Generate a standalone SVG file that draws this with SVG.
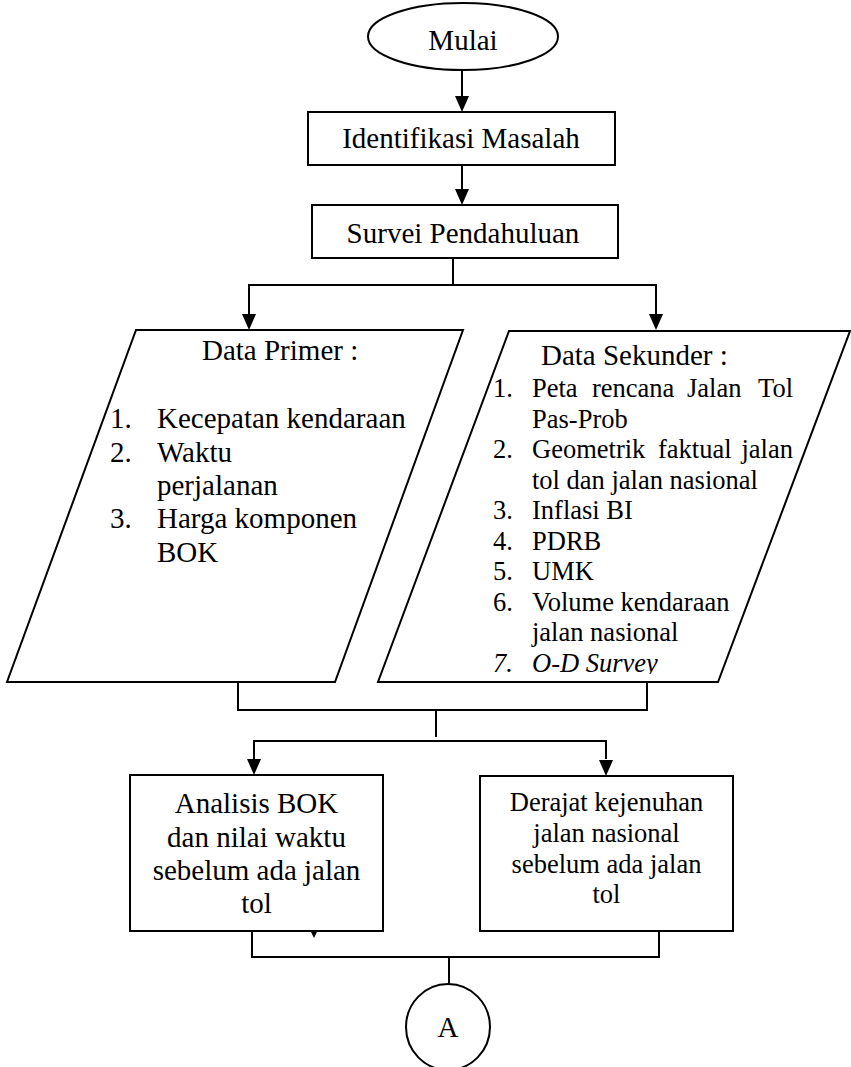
<svg xmlns="http://www.w3.org/2000/svg" width="851" height="1067" viewBox="0 0 851 1067">
<style>
.s{fill:#fff;stroke:#000;stroke-width:2}
.c{fill:none;stroke:#000;stroke-width:2}
.h{fill:#000;stroke:none}
.t{font-family:"Liberation Serif","Times New Roman",serif;fill:#000}
.f29{font-size:29px}
.f26{font-size:26.5px}
.m{text-anchor:middle}
.e{text-anchor:end}
</style>
<defs>
<clipPath id="clipOD"><rect x="480" y="640" width="300" height="34"/></clipPath>
</defs>
<rect width="851" height="1067" fill="#fff"/>

<g id="connectors">
<line class="c" x1="462" y1="70" x2="462" y2="96"/>
<path class="h" d="M455,96 L469,96 L462,112 Z"/>
<line class="c" x1="462" y1="165" x2="462" y2="189"/>
<path class="h" d="M455,189 L469,189 L462,205 Z"/>
<polyline class="c" points="453,258 453,285"/>
<polyline class="c" points="249,314 249,285 656,285 656,314"/>
<path class="h" d="M242,314 L256,314 L249,330 Z"/>
<path class="h" d="M649,314 L663,314 L656,330 Z"/>
<polyline class="c" points="238,682 238,710 647,710 647,682"/>
<line class="c" x1="436" y1="710" x2="436" y2="737"/>
<polyline class="c" points="254,759 254,741 606,741 606,759"/>
<path class="h" d="M247,759 L261,759 L254,775 Z"/>
<path class="h" d="M599,760 L613,760 L606,776 Z"/>
<polyline class="c" points="252,931 252,957 659,957 659,931"/>
<line class="c" x1="449" y1="957" x2="449" y2="985"/>
<path class="h" d="M311,932 L317,932 L314,938 Z"/>
</g>

<g id="mulai">
<ellipse class="s" cx="463" cy="36.5" rx="95" ry="33.5"/>
<text class="t f29 m" x="463" y="50">Mulai</text>
</g>

<g id="identifikasi">
<rect class="s" x="308" y="112" width="307" height="53"/>
<text class="t f29 m" x="461" y="148">Identifikasi Masalah</text>
</g>

<g id="survei">
<rect class="s" x="312" y="205" width="306" height="53"/>
<text class="t f29 m" x="463" y="243">Survei Pendahuluan</text>
</g>

<g id="data-primer">
<polygon class="s" points="136,330 463,330 335,682 7,682"/>
<text class="t f29" x="202" y="360">Data Primer :</text>
<text class="t f29" x="110" y="428">1.</text>
<text class="t f29" x="157" y="428">Kecepatan kendaraan</text>
<text class="t f29" x="110" y="462">2.</text>
<text class="t f29" x="157" y="462">Waktu</text>
<text class="t f29" x="157" y="495">perjalanan</text>
<text class="t f29" x="110" y="528">3.</text>
<text class="t f29" x="157" y="528">Harga komponen</text>
<text class="t f29" x="157" y="562">BOK</text>
</g>

<g id="data-sekunder">
<polygon class="s" points="509,331 850,331 718,682 378,682"/>
<text class="t f29" x="541" y="365">Data Sekunder :</text>
<text class="t f26" x="493" y="397">1.</text>
<text class="t f26" x="532" y="397">Peta</text>
<text class="t f26" x="592" y="397">rencana</text>
<text class="t f26" x="687" y="397">Jalan</text>
<text class="t f26 e" x="793" y="397">Tol</text>
<text class="t f26" x="532" y="427.5">Pas-Prob</text>
<text class="t f26" x="493" y="458">2.</text>
<text class="t f26" x="532" y="458">Geometrik</text>
<text class="t f26" x="658" y="458">faktual</text>
<text class="t f26 e" x="793" y="458">jalan</text>
<text class="t f26" x="532" y="488.5">tol dan jalan nasional</text>
<text class="t f26" x="493" y="519">3.</text>
<text class="t f26" x="532" y="519">Inflasi BI</text>
<text class="t f26" x="493" y="549.5">4.</text>
<text class="t f26" x="532" y="549.5">PDRB</text>
<text class="t f26" x="493" y="580">5.</text>
<text class="t f26" x="532" y="580">UMK</text>
<text class="t f26" x="493" y="610.5">6.</text>
<text class="t f26" x="532" y="610.5">Volume kendaraan</text>
<text class="t f26" x="532" y="641">jalan nasional</text>
<g clip-path="url(#clipOD)">
<text class="t f26" x="493" y="671.5" font-style="italic">7.</text>
<text class="t f26" x="532" y="671.5" font-style="italic">O-D Survey</text>
</g>
</g>

<g id="analisis-bok">
<rect class="s" x="130" y="775" width="253" height="156"/>
<text class="t f29 m" x="256.5" y="813">Analisis BOK</text>
<text class="t f29 m" x="256.5" y="847">dan nilai waktu</text>
<text class="t f29 m" x="256.5" y="880">sebelum ada jalan</text>
<text class="t f29 m" x="256.5" y="913">tol</text>
</g>

<g id="derajat-kejenuhan">
<rect class="s" x="480" y="776" width="253" height="155"/>
<text class="t f26 m" x="606.5" y="811">Derajat kejenuhan</text>
<text class="t f26 m" x="606.5" y="842">jalan nasional</text>
<text class="t f26 m" x="606.5" y="873">sebelum ada jalan</text>
<text class="t f26 m" x="606.5" y="903">tol</text>
</g>

<g id="connector-a">
<ellipse class="s" cx="448" cy="1027" rx="42" ry="43"/>
<text class="t f29 m" x="448" y="1037">A</text>
</g>
</svg>
